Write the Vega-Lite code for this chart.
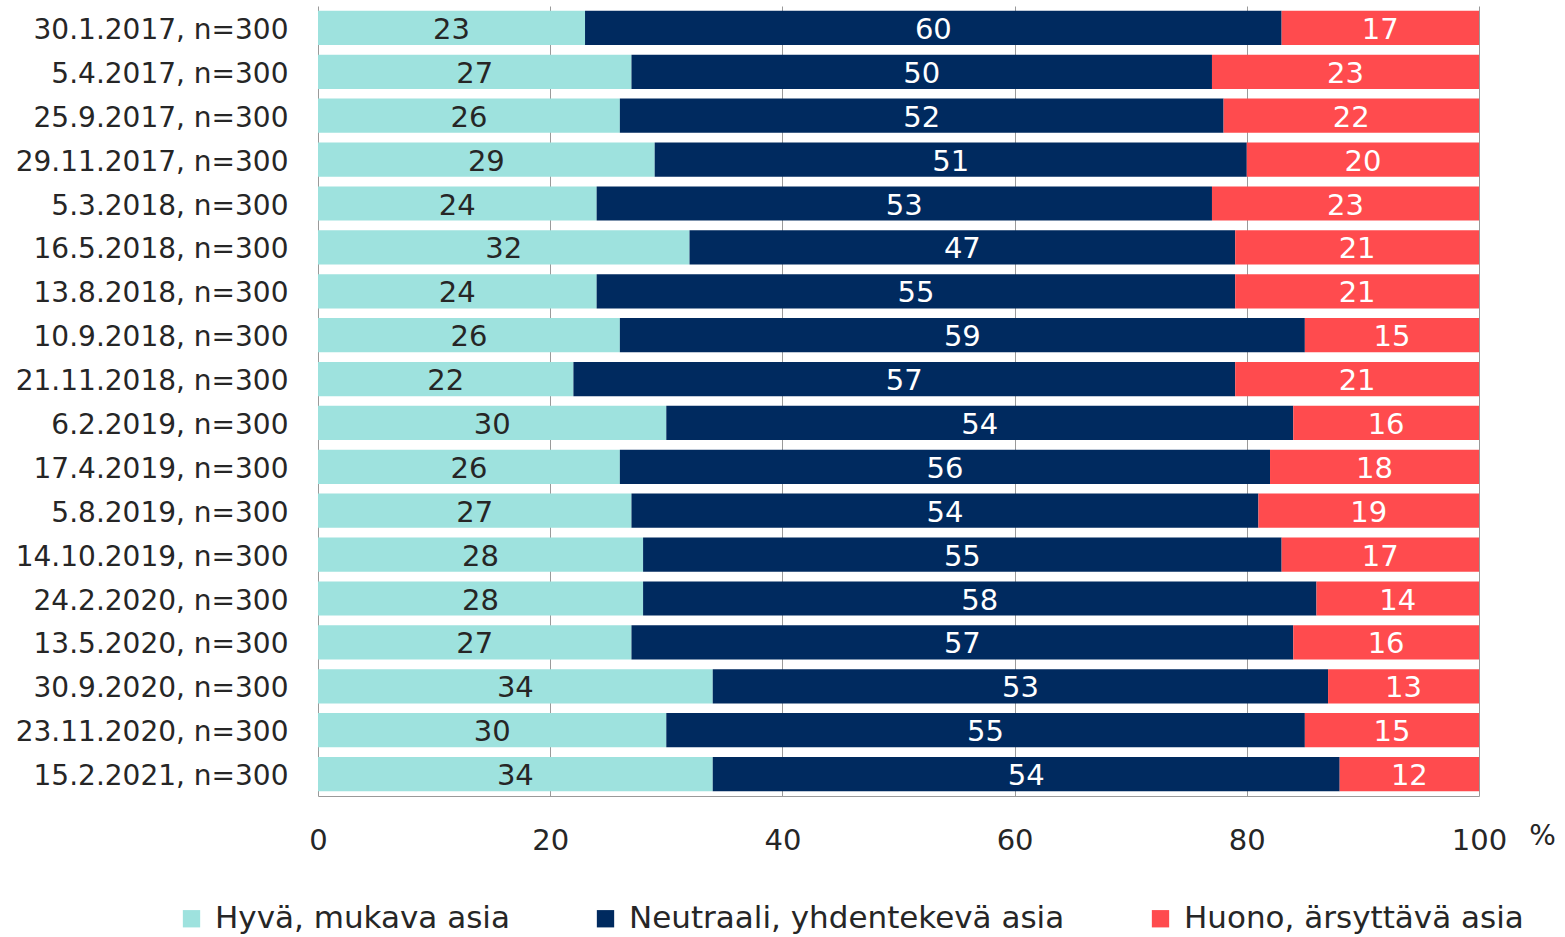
{
  "$schema": "https://vega.github.io/schema/vega-lite/v6.json",
  "autosize": {"type": "none"},
  "padding": {"left": 318, "top": 6, "right": 86, "bottom": 141},
  "width": 1161,
  "height": 790,
  "background": "white",
  "config": {
    "font": "DejaVu Sans",
    "view": {"stroke": null}
  },
  "data": {
    "values": [
      {"date": "30.1.2017, n=300", "cat": "Hyvä, mukava asia", "k": 1, "value": 23},
      {"date": "30.1.2017, n=300", "cat": "Neutraali, yhdentekevä asia", "k": 2, "value": 60},
      {"date": "30.1.2017, n=300", "cat": "Huono, ärsyttävä asia", "k": 3, "value": 17},
      {"date": "5.4.2017, n=300", "cat": "Hyvä, mukava asia", "k": 1, "value": 27},
      {"date": "5.4.2017, n=300", "cat": "Neutraali, yhdentekevä asia", "k": 2, "value": 50},
      {"date": "5.4.2017, n=300", "cat": "Huono, ärsyttävä asia", "k": 3, "value": 23},
      {"date": "25.9.2017, n=300", "cat": "Hyvä, mukava asia", "k": 1, "value": 26},
      {"date": "25.9.2017, n=300", "cat": "Neutraali, yhdentekevä asia", "k": 2, "value": 52},
      {"date": "25.9.2017, n=300", "cat": "Huono, ärsyttävä asia", "k": 3, "value": 22},
      {"date": "29.11.2017, n=300", "cat": "Hyvä, mukava asia", "k": 1, "value": 29},
      {"date": "29.11.2017, n=300", "cat": "Neutraali, yhdentekevä asia", "k": 2, "value": 51},
      {"date": "29.11.2017, n=300", "cat": "Huono, ärsyttävä asia", "k": 3, "value": 20},
      {"date": "5.3.2018, n=300", "cat": "Hyvä, mukava asia", "k": 1, "value": 24},
      {"date": "5.3.2018, n=300", "cat": "Neutraali, yhdentekevä asia", "k": 2, "value": 53},
      {"date": "5.3.2018, n=300", "cat": "Huono, ärsyttävä asia", "k": 3, "value": 23},
      {"date": "16.5.2018, n=300", "cat": "Hyvä, mukava asia", "k": 1, "value": 32},
      {"date": "16.5.2018, n=300", "cat": "Neutraali, yhdentekevä asia", "k": 2, "value": 47},
      {"date": "16.5.2018, n=300", "cat": "Huono, ärsyttävä asia", "k": 3, "value": 21},
      {"date": "13.8.2018, n=300", "cat": "Hyvä, mukava asia", "k": 1, "value": 24},
      {"date": "13.8.2018, n=300", "cat": "Neutraali, yhdentekevä asia", "k": 2, "value": 55},
      {"date": "13.8.2018, n=300", "cat": "Huono, ärsyttävä asia", "k": 3, "value": 21},
      {"date": "10.9.2018, n=300", "cat": "Hyvä, mukava asia", "k": 1, "value": 26},
      {"date": "10.9.2018, n=300", "cat": "Neutraali, yhdentekevä asia", "k": 2, "value": 59},
      {"date": "10.9.2018, n=300", "cat": "Huono, ärsyttävä asia", "k": 3, "value": 15},
      {"date": "21.11.2018, n=300", "cat": "Hyvä, mukava asia", "k": 1, "value": 22},
      {"date": "21.11.2018, n=300", "cat": "Neutraali, yhdentekevä asia", "k": 2, "value": 57},
      {"date": "21.11.2018, n=300", "cat": "Huono, ärsyttävä asia", "k": 3, "value": 21},
      {"date": "6.2.2019, n=300", "cat": "Hyvä, mukava asia", "k": 1, "value": 30},
      {"date": "6.2.2019, n=300", "cat": "Neutraali, yhdentekevä asia", "k": 2, "value": 54},
      {"date": "6.2.2019, n=300", "cat": "Huono, ärsyttävä asia", "k": 3, "value": 16},
      {"date": "17.4.2019, n=300", "cat": "Hyvä, mukava asia", "k": 1, "value": 26},
      {"date": "17.4.2019, n=300", "cat": "Neutraali, yhdentekevä asia", "k": 2, "value": 56},
      {"date": "17.4.2019, n=300", "cat": "Huono, ärsyttävä asia", "k": 3, "value": 18},
      {"date": "5.8.2019, n=300", "cat": "Hyvä, mukava asia", "k": 1, "value": 27},
      {"date": "5.8.2019, n=300", "cat": "Neutraali, yhdentekevä asia", "k": 2, "value": 54},
      {"date": "5.8.2019, n=300", "cat": "Huono, ärsyttävä asia", "k": 3, "value": 19},
      {"date": "14.10.2019, n=300", "cat": "Hyvä, mukava asia", "k": 1, "value": 28},
      {"date": "14.10.2019, n=300", "cat": "Neutraali, yhdentekevä asia", "k": 2, "value": 55},
      {"date": "14.10.2019, n=300", "cat": "Huono, ärsyttävä asia", "k": 3, "value": 17},
      {"date": "24.2.2020, n=300", "cat": "Hyvä, mukava asia", "k": 1, "value": 28},
      {"date": "24.2.2020, n=300", "cat": "Neutraali, yhdentekevä asia", "k": 2, "value": 58},
      {"date": "24.2.2020, n=300", "cat": "Huono, ärsyttävä asia", "k": 3, "value": 14},
      {"date": "13.5.2020, n=300", "cat": "Hyvä, mukava asia", "k": 1, "value": 27},
      {"date": "13.5.2020, n=300", "cat": "Neutraali, yhdentekevä asia", "k": 2, "value": 57},
      {"date": "13.5.2020, n=300", "cat": "Huono, ärsyttävä asia", "k": 3, "value": 16},
      {"date": "30.9.2020, n=300", "cat": "Hyvä, mukava asia", "k": 1, "value": 34},
      {"date": "30.9.2020, n=300", "cat": "Neutraali, yhdentekevä asia", "k": 2, "value": 53},
      {"date": "30.9.2020, n=300", "cat": "Huono, ärsyttävä asia", "k": 3, "value": 13},
      {"date": "23.11.2020, n=300", "cat": "Hyvä, mukava asia", "k": 1, "value": 30},
      {"date": "23.11.2020, n=300", "cat": "Neutraali, yhdentekevä asia", "k": 2, "value": 55},
      {"date": "23.11.2020, n=300", "cat": "Huono, ärsyttävä asia", "k": 3, "value": 15},
      {"date": "15.2.2021, n=300", "cat": "Hyvä, mukava asia", "k": 1, "value": 34},
      {"date": "15.2.2021, n=300", "cat": "Neutraali, yhdentekevä asia", "k": 2, "value": 54},
      {"date": "15.2.2021, n=300", "cat": "Huono, ärsyttävä asia", "k": 3, "value": 12}
    ]
  },
  "transform": [
    {"stack": "value", "groupby": ["date"], "sort": [{"field": "k", "order": "ascending"}], "as": ["v0", "v1"]},
    {"calculate": "(datum.v0 + datum.v1) / 2", "as": "mid"}
  ],
  "encoding": {
    "y": {
      "field": "date",
      "type": "nominal",
      "sort": null,
      "scale": {"paddingInner": 0.22, "paddingOuter": 0.11},
      "axis": {
        "title": null,
        "ticks": false,
        "domain": false,
        "labelFontSize": 28,
        "labelColor": "#262626",
        "labelPadding": 30,
        "labelOffset": 3,
        "labelLimit": 500
      }
    }
  },
  "layer": [
    {
      "mark": {"type": "bar"},
      "encoding": {
        "x": {
          "field": "v0",
          "type": "quantitative",
          "scale": {"domain": [0, 100], "nice": false},
          "axis": {
            "values": [0, 20, 40, 60, 80, 100],
            "grid": true,
            "gridColor": "#9a9a9a",
            "gridWidth": 1,
            "gridOpacity": 1,
            "domain": true,
            "domainColor": "#9a9a9a",
            "ticks": false,
            "labelFlush": false,
            "labelFontSize": 29,
            "labelColor": "#262626",
            "labelPadding": 30,
            "title": "%",
            "titleFontSize": 28,
            "titleFontWeight": "normal",
            "titleColor": "#262626",
            "titleX": 1224,
            "titleY": 40,
            "titleAlign": "center",
            "titleBaseline": "middle"
          }
        },
        "x2": {"field": "v1"},
        "color": {
          "field": "cat",
          "type": "nominal",
          "sort": ["Hyvä, mukava asia", "Neutraali, yhdentekevä asia", "Huono, ärsyttävä asia"],
          "scale": {
            "domain": ["Hyvä, mukava asia", "Neutraali, yhdentekevä asia", "Huono, ärsyttävä asia"],
            "range": ["#9ee2de", "#002a5f", "#ff4b4e"]
          },
          "legend": {
            "title": null,
            "orient": "none",
            "direction": "horizontal",
            "legendX": -142,
            "legendY": 897,
            "symbolType": "square",
            "symbolSize": 300,
            "symbolStrokeWidth": 0,
            "symbolOpacity": 1,
            "labelFontSize": 31,
            "labelColor": "#262626",
            "labelOffset": 8,
            "columnPadding": 80,
            "labelLimit": 600
          }
        }
      }
    },
    {
      "mark": {"type": "text", "fontSize": 29, "baseline": "middle", "align": "center", "dy": 2},
      "encoding": {
        "x": {"field": "mid", "type": "quantitative"},
        "text": {"field": "value", "type": "quantitative"},
        "color": {
          "condition": {"test": "datum.k == 1", "value": "#262626"},
          "value": "white"
        }
      }
    }
  ]
}
